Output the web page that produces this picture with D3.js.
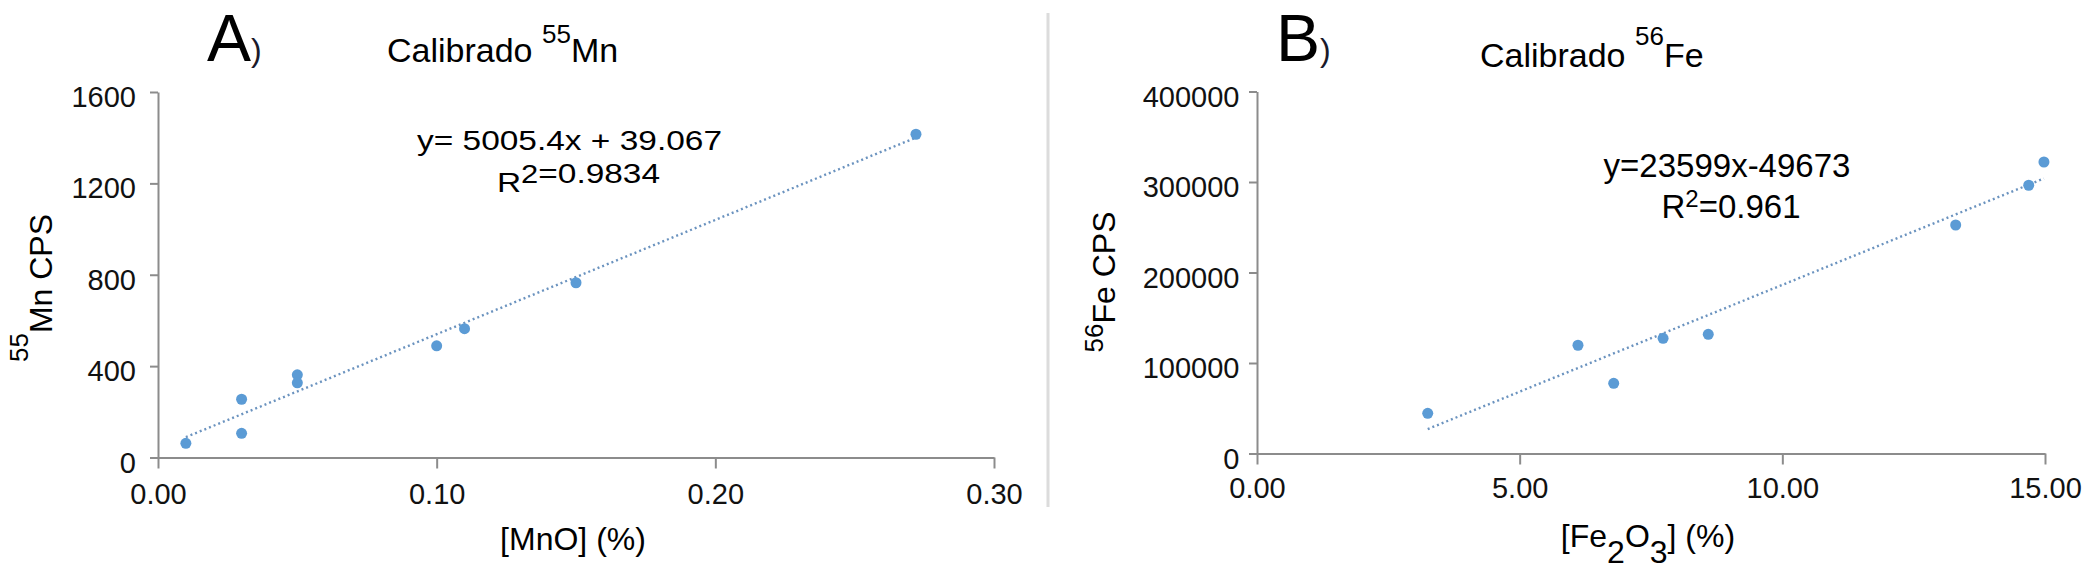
<!DOCTYPE html>
<html>
<head>
<meta charset="utf-8">
<script src="https://cdn.jsdelivr.net/npm/d3@7/dist/d3.min.js"></script>
<style>
  body { margin: 0; background: #fff; }
  svg { display: block; font-family: "Liberation Sans", Arial, Helvetica, sans-serif; }
</style>
</head>
<body>
<div id="chart"></div>
<script>
// Panel A: calibrado 55Mn
const mnX = [0.01, 0.03, 0.03, 0.05, 0.05, 0.10, 0.11, 0.15, 0.272];
const mnY = [62, 255, 106, 362, 327, 489, 564, 765, 1415];
const mnXTicks = [0, 0.1, 0.2, 0.3];
const mnYTicks = [0, 400, 800, 1200, 1600];
const mnFit = [5005.4, 39.067];

// Panel B: calibrado 56Fe
const feX = [3.25, 6.11, 6.79, 7.73, 8.59, 13.30, 14.69, 14.98];
const feY = [44400, 119600, 77600, 127300, 131700, 252500, 296400, 322100];
const feXTicks = [0, 5, 10, 15];
const feYTicks = [0, 100000, 200000, 300000, 400000];
const feFit = [23599, -49673];

const W = 2096, H = 572;
const axisColor = '#8c8c8c';
const dotColor = '#5b9bd5';
const trendColor = '#6b93bf';

const svg = d3.select('#chart').append('svg')
    .attr('width', W)
    .attr('height', H);

svg.append('rect').attr('width', W).attr('height', H).attr('fill', '#fff');

// separador entre paneles
svg.append('line')
    .attr('x1', 1048).attr('x2', 1048)
    .attr('y1', 13).attr('y2', 507)
    .attr('stroke', '#dcdcdc')
    .attr('stroke-width', 3);

function styleAxis(g) {
    g.select('.domain').attr('stroke', axisColor).attr('stroke-width', 2);
    g.selectAll('.tick line').attr('stroke', axisColor).attr('stroke-width', 2);
    g.selectAll('.tick text')
        .attr('fill', '#111')
        .attr('font-size', 29)
        .attr('font-family', '"Liberation Sans", Arial, Helvetica, sans-serif');
}

function panel(cfg) {
    const g = svg.append('g');

    const x = d3.scaleLinear().domain(cfg.xDomain).range(cfg.xRange);
    const y = d3.scaleLinear().domain(cfg.yDomain).range(cfg.yRange);

    const xAxis = g.append('g')
        .attr('transform', `translate(0,${cfg.yRange[0]})`)
        .call(d3.axisBottom(x).tickValues(cfg.xTicks).tickFormat(d3.format('.2f'))
            .tickSize(11).tickSizeOuter(0).tickPadding(cfg.xPad));
    styleAxis(xAxis);

    const yAxis = g.append('g')
        .attr('transform', `translate(${cfg.xRange[0]},0)`)
        .call(d3.axisLeft(y).tickValues(cfg.yTicks).tickFormat(d3.format('d'))
            .tickSize(8).tickSizeOuter(0).tickPadding(cfg.yPad));
    styleAxis(yAxis);
    yAxis.selectAll('.tick text').attr('dy', '0.5em');

    // linea de tendencia
    const x0 = d3.min(cfg.xs), x1 = d3.max(cfg.xs);
    const fit = v => cfg.fit[0] * v + cfg.fit[1];
    g.append('line')
        .attr('x1', x(x0)).attr('y1', y(fit(x0)))
        .attr('x2', x(x1)).attr('y2', y(fit(x1)))
        .attr('stroke', trendColor)
        .attr('stroke-width', 2.4)
        .attr('stroke-dasharray', '2 3');

    g.selectAll('circle.pt')
        .data(cfg.xs.map((v, i) => [v, cfg.ys[i]]))
        .enter().append('circle')
        .attr('class', 'pt')
        .attr('cx', d => x(d[0]))
        .attr('cy', d => y(d[1]))
        .attr('r', 5.5)
        .attr('fill', dotColor);

    // letra del panel
    const letter = g.append('text')
        .attr('x', cfg.letterX).attr('y', 61)
        .attr('fill', '#000');
    letter.append('tspan').attr('font-size', 66).text(cfg.letter);
    letter.append('tspan').attr('font-size', 32).attr('fill', '#1a1a2a').text(')');

    // titulo
    const title = g.append('text')
        .attr('x', cfg.titleX).attr('y', cfg.titleY)
        .attr('font-size', 34)
        .attr('fill', '#000');
    title.append('tspan').text('Calibrado ');
    title.append('tspan').attr('font-size', 26).attr('dy', -cfg.titleSup).text(cfg.isotope);
    title.append('tspan').attr('dy', cfg.titleSup).text(cfg.element);

    // etiqueta eje Y (rotada)
    const yl = g.append('text')
        .attr('transform', `translate(${cfg.yLabelX},${cfg.yLabelY}) rotate(-90)`)
        .attr('text-anchor', 'middle')
        .attr('font-size', 32)
        .attr('fill', '#000');
    yl.append('tspan').attr('font-size', 26).attr('dy', -cfg.yLabelSup).text(cfg.isotope);
    yl.append('tspan').attr('dy', cfg.yLabelSup).text(cfg.element + ' CPS');

    // etiqueta eje X
    const xl = g.append('text')
        .attr('x', (cfg.xRange[0] + cfg.xRange[1]) / 2 - 3)
        .attr('y', cfg.xLabelY)
        .attr('text-anchor', 'middle')
        .attr('font-size', 32)
        .attr('fill', '#000');
    cfg.xLabel.forEach(p => {
        xl.append('tspan').attr('dy', p.dy || 0).text(p.t);
    });

    // ecuacion
    cfg.equation(g);
}

panel({
    xs: mnX, ys: mnY, fit: mnFit,
    xDomain: [0, 0.3], yDomain: [0, 1600],
    xRange: [158, 994], yRange: [457.5, 92],
    xTicks: mnXTicks, yTicks: mnYTicks,
    xPad: 14.5, yPad: 14,
    letter: 'A', letterX: 207,
    titleX: 387, titleY: 62, titleSup: 19,
    isotope: '55', element: 'Mn',
    yLabelX: 52, yLabelY: 288, yLabelSup: 24,
    xLabelY: 550,
    xLabel: [{ t: '[MnO] (%)' }],
    equation: g => {
        g.append('text')
            .attr('x', 417).attr('y', 150)
            .attr('font-size', 27)
            .attr('textLength', 305)
            .attr('lengthAdjust', 'spacingAndGlyphs')
            .attr('fill', '#000')
            .text('y= 5005.4x + 39.067');
        const r = g.append('text')
            .attr('x', 497).attr('y', 183)
            .attr('font-size', 27)
            .attr('textLength', 163)
            .attr('lengthAdjust', 'spacingAndGlyphs')
            .attr('fill', '#000');
        r.append('tspan').attr('dy', 9).text('R');
        r.append('tspan').attr('dy', -9).attr('font-size', 25).text('2');
        r.append('tspan').text('=0.9834');
    }
});

panel({
    xs: feX, ys: feY, fit: feFit,
    xDomain: [0, 15], yDomain: [0, 400000],
    xRange: [1257, 2045], yRange: [453.5, 91.5],
    xTicks: feXTicks, yTicks: feYTicks,
    xPad: 12.5, yPad: 9.5,
    letter: 'B', letterX: 1276,
    titleX: 1480, titleY: 67, titleSup: 22,
    isotope: '56', element: 'Fe',
    yLabelX: 1115, yLabelY: 282, yLabelSup: 12,
    xLabelY: 547,
    xLabel: [
        { t: '[Fe' }, { t: '2', dy: 16 }, { t: 'O', dy: -16 },
        { t: '3', dy: 16 }, { t: '] (%)', dy: -16 }
    ],
    equation: g => {
        g.append('text')
            .attr('x', 1727).attr('y', 177)
            .attr('text-anchor', 'middle')
            .attr('font-size', 33)
            .attr('fill', '#000')
            .text('y=23599x-49673');
        const r = g.append('text')
            .attr('x', 1731).attr('y', 218)
            .attr('text-anchor', 'middle')
            .attr('font-size', 33)
            .attr('fill', '#000');
        r.append('tspan').text('R');
        r.append('tspan').attr('dy', -11).attr('font-size', 24).text('2');
        r.append('tspan').attr('dy', 11).text('=0.961');
    }
});
</script>
</body>
</html>
